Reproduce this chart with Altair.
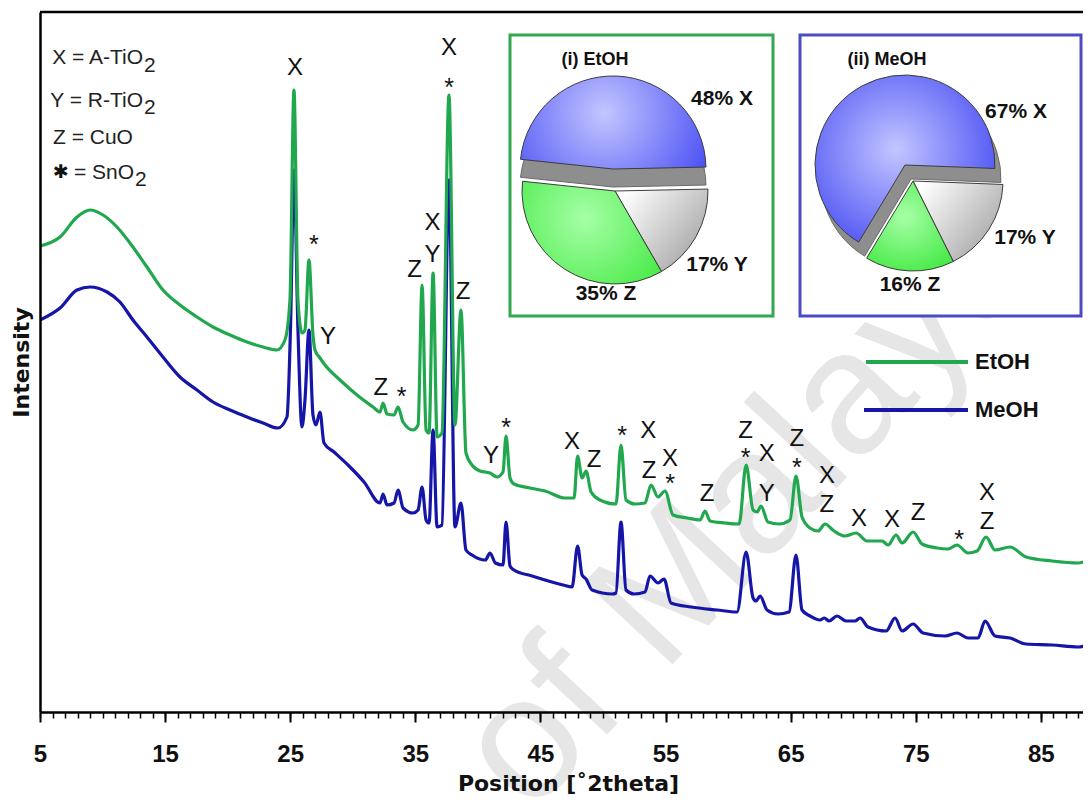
import math
import altair as alt
import pandas as pd

# ---------------- data ----------------
# EtOH pattern (green): position [deg 2theta], intensity [a.u.]
etoh_x = [5.0, 6.6, 7.96, 9.0, 10.04, 11.15, 12.19, 13.55, 14.83, 16.19,
          17.55, 18.83, 20.19, 21.55, 22.83, 23.94, 24.58, 24.98, 25.3, 25.62,
          25.94, 26.18, 26.5, 26.82, 26.98, 27.38, 27.78, 28.98, 30.34, 31.62,
          32.18, 32.42, 32.74, 33.3, 33.62, 34.02, 34.82, 35.22, 35.54, 35.86,
          36.1, 36.42, 36.74, 37.13, 37.69, 38.17, 38.65, 39.05, 39.53, 40.17,
          40.97, 41.53, 42.01, 42.25, 42.57, 42.89, 44.17, 45.37, 46.97, 47.69,
          47.97, 48.33, 48.65, 49.05, 49.76, 51.04, 51.44, 51.84, 52.56, 53.36,
          53.84, 54.4, 54.96, 55.6, 56.72, 57.76, 58.16, 58.56, 59.76, 60.88,
          61.44, 62.0, 62.32, 62.63, 63.19, 64.07, 64.95, 65.43, 65.91, 66.55,
          67.19, 67.75, 68.47, 69.35, 70.23, 71.11, 72.31, 72.79, 73.43, 73.91,
          74.79, 75.5, 76.7, 77.58, 78.3, 79.18, 79.9, 80.62, 81.34, 82.54,
          83.82, 85.9, 87.98, 89.0]
etoh_y = [466, 475, 495, 502, 497, 485, 469, 445, 422, 407,
          395, 385, 377, 370, 365, 362, 372, 412, 622, 412,
          379, 382, 452, 377, 362, 354, 347, 332, 317, 305,
          300, 309, 298, 297, 305, 290, 282, 287, 427, 282,
          279, 439, 275, 279, 617, 287, 402, 259, 247, 241,
          239, 235, 240, 276, 234, 228, 224, 221, 214, 214,
          256, 234, 241, 220, 212, 208, 267, 212, 208, 209,
          227, 215, 221, 197, 194, 192, 201, 191, 189, 188,
          247, 202, 200, 206, 190, 188, 192, 236, 195, 184,
          181, 188, 181, 176, 179, 171, 171, 167, 177, 169,
          180, 168, 164, 163, 167, 159, 161, 175, 162, 165,
          155, 151, 149, 153]

# MeOH pattern (blue)
meoh_x = [5.0, 6.6, 7.96, 9.0, 10.36, 11.39, 12.43, 13.55, 14.83, 16.19,
          17.55, 18.83, 20.19, 21.55, 22.83, 24.02, 24.74, 25.02, 25.3, 25.62,
          25.94, 26.18, 26.5, 26.82, 27.06, 27.38, 27.7, 28.5, 29.7, 30.9,
          32.18, 32.42, 32.74, 33.3, 33.62, 34.02, 34.82, 35.22, 35.54, 35.86,
          36.1, 36.42, 36.74, 37.13, 37.69, 38.17, 38.65, 39.05, 39.53, 40.6,
          40.97, 41.4, 42.01, 42.25, 42.57, 42.89, 44.33, 46.81, 47.53, 47.97,
          48.33, 48.65, 49.13, 50.76, 51.04, 51.44, 51.84, 52.48, 53.36, 53.76,
          54.4, 54.88, 55.44, 57.04, 59.12, 60.72, 61.44, 62.0, 62.24, 62.56,
          63.11, 63.99, 64.87, 65.43, 65.91, 66.55, 67.35, 67.7, 68.07, 68.71,
          69.43, 70.15, 70.55, 71.19, 72.63, 73.35, 73.91, 74.79, 75.58, 77.34,
          78.3, 79.18, 79.98, 80.54, 81.34, 82.54, 83.82, 85.9, 87.98, 89.0]
meoh_y = [392, 404, 422, 425, 420, 410, 392, 375, 355, 335,
          322, 310, 302, 295, 289, 284, 295, 382, 542, 382,
          285, 312, 382, 297, 287, 300, 269, 260, 246, 230,
          209, 218, 207, 209, 222, 204, 199, 202, 225, 192,
          189, 282, 185, 187, 532, 185, 209, 162, 157, 152,
          159, 149, 147, 190, 146, 142, 136, 127, 125, 166,
          137, 133, 122, 118, 119, 190, 122, 118, 120, 136,
          129, 133, 109, 105, 102, 100, 160, 114, 111, 116,
          102, 98, 100, 157, 102, 96, 92, 94, 91, 96,
          91, 91, 94, 85, 81, 94, 81, 88, 79, 76,
          79, 74, 74, 91, 76, 74, 68, 67, 65, 68]

# peak assignments
ann_text = ["X", "*", "Y", "Z", "*", "Z", "X", "Y", "X", "*", "Z", "Y", "*", "X", "Z",
            "*", "X", "Z", "X", "*", "Z", "Z", "*", "X", "Y", "Z", "*", "X", "Z", "X",
            "X", "Z", "*", "X", "Z"]
ann_x = [25.38, 26.9, 28.02, 32.25, 33.9, 34.95, 36.38, 36.38, 37.7, 37.7, 38.81, 41.05,
         42.25, 47.53, 49.29, 51.52, 53.62, 53.68, 55.36, 55.36, 58.32, 61.4, 61.4, 63.1,
         63.1, 65.5, 65.5, 67.9, 67.9, 70.47, 73.1, 75.18, 78.46, 80.7, 80.7]
ann_y = [644, 473, 375, 324, 321, 442, 489, 457, 664, 630, 420, 256, 290, 270, 252,
         282, 281, 241, 253, 234, 218, 281, 260, 258, 218, 273, 250, 236, 207, 193,
         192, 199, 178, 219, 190]

# phase fractions of the two inset pies
phases = ["X", "Y", "Z"]
etoh_pct = [48, 17, 35]
meoh_pct = [67, 17, 16]

series_names = ["EtOH", "MeOH"]

# ---------------- layout / style ----------------
W, H = 1043, 700
xscale = alt.Scale(domain=[5, 88.37], nice=False, zero=False)
yscale = alt.Scale(domain=[0, 700], nice=False, zero=False)
GREEN = "#21a84f"
BLUE = "#1515a8"
BOX_GREEN = "#33a850"
BOX_BLUE = "#4b4bc4"
SANS = "Liberation Sans"

etoh = pd.DataFrame({"pos": etoh_x, "intensity": etoh_y})
meoh = pd.DataFrame({"pos": meoh_x, "intensity": meoh_y})
ann = pd.DataFrame({"label": ann_text, "pos": ann_x, "intensity": ann_y})

main_axis = alt.Axis(values=list(range(5, 86, 10)), orient="bottom", grid=False,
                     title="Position [˚2theta]", tickSize=10, tickWidth=2,
                     tickColor="black", domainColor="black", domainWidth=2.5,
                     labelFont=SANS, labelFontSize=24,
                     labelFontWeight="bold", labelColor="#111", labelPadding=20,
                     labelFlush=False, titleFont="DejaVu Sans", titleFontSize=22,
                     titleFontWeight="bold", titleColor="#111",
                     titleBaseline="middle", titleY=71, titleX=528, zindex=2)
minor_axis = alt.Axis(values=list(range(5, 89)), orient="bottom", grid=False,
                      labels=False, domain=False, tickSize=6, tickWidth=1.5,
                      tickColor="black", title="", zindex=2)
y_axis = alt.Axis(orient="left", title="Intensity", labels=False, ticks=False,
                  grid=False, domainColor="black", domainWidth=2.5,
                  titleFont="DejaVu Sans", titleFontSize=22, titleFontWeight="bold",
                  titleColor="#111", titlePadding=7, zindex=2)

layers = []

# watermark
wm = pd.DataFrame({"t": ["of Malaya"]})
layers.append(alt.Chart(wm).mark_text(font=SANS, fontSize=175,
                                      color="#e6e6e6", angle=313, align="left",
                                      baseline="alphabetic")
              .encode(x=alt.value(490), y=alt.value(805), text="t:N"))

# XRD lines
layers.append(alt.Chart(meoh).mark_line(color=BLUE, strokeWidth=3.2, clip=True,
                                        interpolate="monotone").encode(
    x=alt.X("pos:Q", scale=xscale, axis=minor_axis),
    y=alt.Y("intensity:Q", scale=yscale, axis=y_axis)))
layers.append(alt.Chart(etoh).mark_line(color=GREEN, strokeWidth=3.2, clip=True,
                                        interpolate="monotone").encode(
    x=alt.X("pos:Q", scale=xscale, axis=main_axis),
    y=alt.Y("intensity:Q", scale=yscale, axis=None)))

# peak labels
enc_ann = dict(x=alt.X("pos:Q", scale=xscale, axis=None),
               y=alt.Y("intensity:Q", scale=yscale, axis=None), text="label:N")
layers.append(alt.Chart(ann).transform_filter(alt.datum.label != "*")
              .mark_text(font=SANS, fontSize=24, color="#111",
                         baseline="middle").encode(**enc_ann))
layers.append(alt.Chart(ann).transform_filter(alt.datum.label == "*")
              .mark_text(font=SANS, fontSize=25, color="#111",
                         baseline="middle", dy=6).encode(**enc_ann))

# top frame line
layers.append(alt.Chart(wm).mark_rule(color="black", strokeWidth=2.5).encode(
    x=alt.value(0), x2=alt.value(W), y=alt.value(0)))


def txt(s, x, y, size=21, font=SANS, weight="normal", align="left", color="#222"):
    return (alt.Chart(pd.DataFrame({"t": [s]}))
            .mark_text(font=font, fontSize=size, fontWeight=weight, align=align,
                       baseline="middle", color=color)
            .encode(x=alt.value(x), y=alt.value(y), text="t:N"))


# phase key (top-left)
layers += [
    txt("X = A-TiO", 103, 46, align="right"), txt("2", 104, 54),
    txt("Y = R-TiO", 103, 89, align="right"), txt("2", 104, 96),
    txt("Z = CuO", 13, 126),
    txt("✱", 21, 160, 19, font="DejaVu Sans", align="center", color="#111"),
    txt("= SnO", 94, 161, align="right"), txt("2", 95, 168),
]

# inset boxes
for (x1, x2, col) in [(470, 733, BOX_GREEN), (760, 1041, BOX_BLUE)]:
    layers.append(alt.Chart(wm).mark_rect(fill="white", stroke=col, strokeWidth=3).encode(
        x=alt.value(x1), x2=alt.value(x2), y=alt.value(23), y2=alt.value(304)))

layers.append(txt("(i) EtOH", 555, 48, 18, weight="bold", align="center", color="#111"))
layers.append(txt("(ii) MeOH", 847, 48, 18, weight="bold", align="center", color="#111"))

BLUE_FILL = {"gradient": "radial", "x1": 0.45, "y1": 0.45, "x2": 0.45, "y2": 0.45,
             "r1": 0, "r2": 0.75,
             "stops": [{"offset": 0, "color": "#c3c6ff"}, {"offset": 1, "color": "#3238f2"}]}
GREEN_FILL = {"gradient": "radial", "x1": 0.45, "y1": 0.4, "x2": 0.45, "y2": 0.4,
              "r1": 0, "r2": 0.8,
              "stops": [{"offset": 0, "color": "#a6ffa6"}, {"offset": 1, "color": "#36e636"}]}
GREY_FILL = {"gradient": "linear", "x1": 0, "y1": 0.2, "x2": 1, "y2": 0.9,
             "stops": [{"offset": 0, "color": "#ffffff"}, {"offset": 1, "color": "#9c9c9c"}]}
FILLS = {"X": BLUE_FILL, "Y": GREY_FILL, "Z": GREEN_FILL}


def pie_frame(pcts):
    rows, acc = [], 0
    for ph, p in zip(phases, pcts):
        rows.append({"phase": ph, "pct": p, "t0": acc, "t1": acc + p})
        acc += p
    return pd.DataFrame(rows)


def pie(pcts, start_deg, r, blue_c, band_c, rest_c):
    df = pie_frame(pcts)
    a0 = math.radians(start_deg)
    sc = alt.Scale(domain=[0, 100], range=[a0, a0 + 2 * math.pi])
    out = []

    def arc(phase, c, fill, stroke="#3c3c3c"):
        return (alt.Chart(df).transform_filter(alt.datum.phase == phase)
                .mark_arc(radius=r, fill=fill, stroke=stroke, strokeWidth=1)
                .encode(theta=alt.Theta("t0:Q", scale=sc, stack=False),
                        theta2="t1:Q", x=alt.value(c[0]), y=alt.value(c[1])))
    out.append(arc("X", band_c, "#8e8e8e", "#6a6a6a"))
    out.append(arc("X", blue_c, FILLS["X"]))
    out.append(arc("Y", rest_c, FILLS["Y"]))
    out.append(arc("Z", rest_c, FILLS["Z"]))
    return out, df


p1, df1 = pie(etoh_pct, 276, 93, (573, 157), (573, 175), (575, 179))
p2, df2 = pie(meoh_pct, 211, 90, (865, 153), (871, 167), (873, 169))
layers += p1 + p2

# pie labels built from the fractions
lab_pos1 = [(682, 87), (677, 253), (566, 282)]
lab_pos2 = [(976, 100), (985, 226), (870, 273)]
for df, pos in [(df1, lab_pos1), (df2, lab_pos2)]:
    for (_, row), (px, py) in zip(df.iterrows(), pos):
        layers.append(txt(f"{row.pct}% {row.phase}", px, py, 21, weight="bold",
                          align="center", color="#111"))

# legend
for name, col, yy, x1 in [(series_names[0], GREEN, 350, 826), (series_names[1], BLUE, 398, 824)]:
    layers.append(alt.Chart(wm).mark_rule(color=col, strokeWidth=4).encode(
        x=alt.value(x1), x2=alt.value(928), y=alt.value(yy)))
    layers.append(txt(name, 935, yy, 22, weight="bold", color="#111"))

chart = (alt.layer(*layers)
         .resolve_scale(theta="independent")
         .resolve_axis(x="independent", y="independent")
         .properties(width=W, height=H, background="white",
                     padding={"left": 32, "top": 4, "right": 0, "bottom": 85},
                     autosize=alt.AutoSizeParams(type="none"))
         .configure_view(stroke=None))

chart.save("out.html", embed_options={"renderer": "svg", "actions": False})
